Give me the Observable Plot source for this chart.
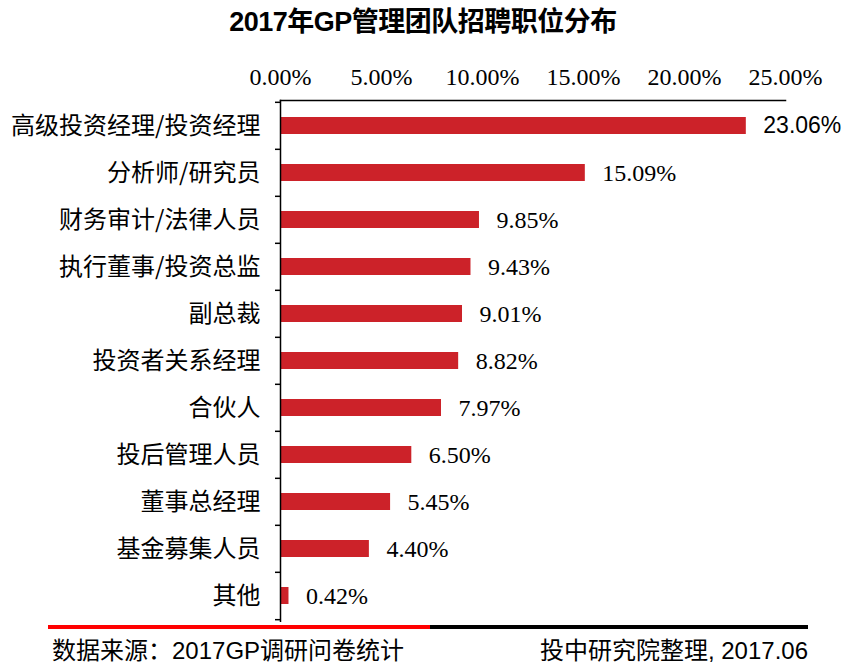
<!DOCTYPE html>
<html>
<head>
<meta charset="utf-8">
<script src="https://cdn.jsdelivr.net/npm/d3@7"></script>
<script src="https://cdn.jsdelivr.net/npm/@observablehq/plot@0.6"></script>
<style>
  html, body { margin: 0; padding: 0; background: #fff; }
  #wrap { width: 846px; height: 666px; position: relative; overflow: hidden; }
  #title { height: 44px; line-height: 44px; text-align: center; font-family: "Liberation Sans", "Noto Sans CJK SC", sans-serif; font-weight: bold; font-size: 27px; color: #000; letter-spacing: -0.5px; }
  #chart svg { display: block; }
  #chart svg g[aria-label="x-axis tick label"], #chart svg g.serif { font-family: "Liberation Serif", "Times New Roman", "DejaVu Serif", serif !important; }
  #rule { position: absolute; left: 48px; top: 625px; width: 760px; height: 4px; background: linear-gradient(to right, #ff0000 0, #ff0000 382px, #000 382px, #000 100%); }
  #foot { position: absolute; left: 52px; right: 38px; top: 637px; height: 28px; line-height: 28px; display: flex; justify-content: space-between; font-family: "Liberation Sans", "Noto Sans CJK SC", sans-serif; font-size: 24px; color: #000; }
</style>
</head>
<body>
<div id="wrap">
  <div id="title">2017年GP管理团队招聘职位分布</div>
  <div id="chart"></div>
  <div id="rule"></div>
  <div id="foot"><span>数据来源：2017GP调研问卷统计</span><span>投中研究院整理, 2017.06</span></div>
</div>
<script>
const categories = ["高级投资经理/投资经理", "分析师/研究员", "财务审计/法律人员", "执行董事/投资总监", "副总裁", "投资者关系经理", "合伙人", "投后管理人员", "董事总经理", "基金募集人员", "其他"];
const values = [23.06, 15.09, 9.85, 9.43, 9.01, 8.82, 7.97, 6.50, 5.45, 4.40, 0.42];
const xTicks = [0, 5, 10, 15, 20, 25];

const data = categories.map((c, i) => ({category: c, value: values[i]}));
const pct = v => v.toFixed(2) + "%";

const H = 578, MT = 56, MB = 1;
const step = (H - MT - MB) / categories.length;
const barColor = "#cc2229";
const serif = "Liberation Serif, Times New Roman, DejaVu Serif, serif";

const chart = Plot.plot({
  width: 846,
  height: H,
  marginTop: MT,
  marginBottom: MB,
  marginLeft: 280,
  marginRight: 61,
  x: {domain: [0, 25]},
  y: {domain: categories, padding: 0},
  marks: [
    Plot.barX(data, {x: "value", y: "category", fill: barColor, insetTop: 15, insetBottom: 15}),
    Plot.axisX({anchor: "top", ticks: xTicks, tickSize: 0, tickPadding: 16, tickFormat: pct, label: null, fontSize: 24, fontFamily: serif, fill: "#000"}),
    Plot.axisY({anchor: "left", tickSize: 0, tickPadding: 20, label: null, fontSize: 24, fontFamily: "Noto Sans CJK SC", fill: "#000"}),
    Plot.axisY({anchor: "left", tickSize: 5, tickFormat: () => "", label: null, dy: -step / 2, stroke: "#000", strokeWidth: 1.5}),
    Plot.axisY({anchor: "left", ticks: [categories[categories.length - 1]], tickSize: 5, tickFormat: () => "", label: null, dy: step / 2, stroke: "#000", strokeWidth: 1.5}),
    Plot.frame({anchor: "top", stroke: "#000", strokeWidth: 1.5}),
    Plot.frame({anchor: "left", stroke: "#000", strokeWidth: 1.5}),
    Plot.text(data.slice(0, 1), {x: "value", y: "category", text: d => pct(d.value), dx: 17, textAnchor: "start", fontSize: 23, fontFamily: "Liberation Sans", fill: "#000"}),
    Plot.text(data.slice(1), {x: "value", y: "category", text: d => pct(d.value), dx: 17, textAnchor: "start", fontSize: 24, fontFamily: serif, fill: "#000", ariaLabel: "value-serif"})
  ]
});
chart.querySelectorAll('g[aria-label="value-serif"]').forEach(g => g.classList.add("serif"));
document.getElementById("chart").appendChild(chart);
</script>
</body>
</html>
